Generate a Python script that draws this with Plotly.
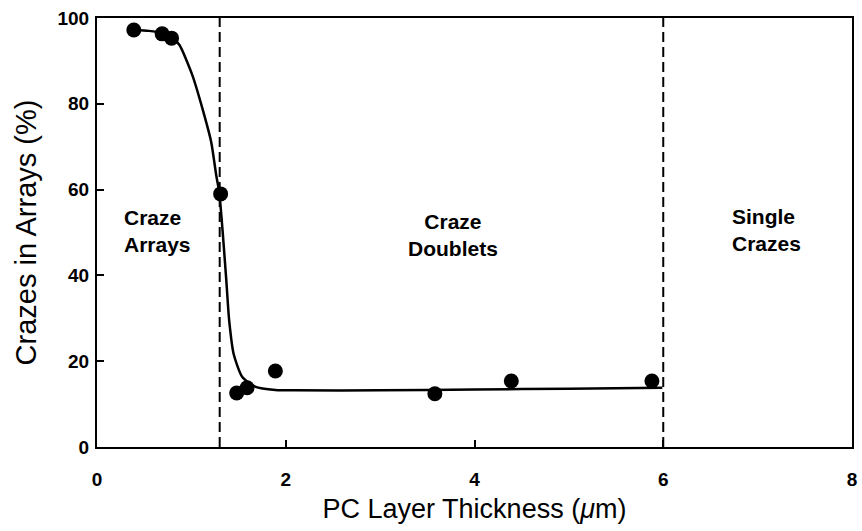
import plotly.graph_objects as go

# measured data points
thickness = [0.39, 0.69, 0.79, 1.31, 1.48, 1.59, 1.89, 3.58, 4.39, 5.88]
crazes_pct = [97.2, 96.3, 95.3, 59.0, 12.6, 13.8, 17.7, 12.4, 15.4, 15.4]

# fitted curve
curve_x = [0.39, 0.55, 0.69, 0.79, 0.874, 1.01, 1.116, 1.21, 1.263, 1.295, 1.33, 1.37, 1.40, 1.45, 1.54, 1.68, 1.89, 2.1, 3.0, 4.0, 5.0, 5.99]
curve_y = [97.2, 97.0, 96.5, 95.6, 93.7, 86.7, 79.0, 71.1, 63.4, 59.4, 50.6, 38.9, 29.6, 21.5, 16.3, 14.0, 13.3, 13.2, 13.2, 13.4, 13.6, 13.8]

# region boundaries
boundaries = [1.3, 6.0]

# region labels
label_text = ["Craze<br>Arrays", "Craze<br>Doublets", "Single<br>Crazes"]
label_x = [0.637, 3.77, 7.09]
label_y = [50.3, 49.4, 50.6]
label_align = ["left", "center", "left"]

x_ticks = [0, 2, 4, 6, 8]
y_ticks = [0, 20, 40, 60, 80, 100]

FONT = "Liberation Sans, Arial, Helvetica, sans-serif"

fig = go.Figure()

for b in boundaries:
    fig.add_trace(go.Scatter(x=[b, b], y=[0, 100], mode="lines",
                             line=dict(color="black", width=2, dash="10px,5px"),
                             hoverinfo="skip", showlegend=False))

fig.add_trace(go.Scatter(x=curve_x, y=curve_y, mode="lines",
                         line=dict(color="black", width=2.5, shape="spline", smoothing=0.6),
                         showlegend=False))

fig.add_trace(go.Scatter(x=thickness, y=crazes_pct, mode="markers",
                         marker=dict(color="black", size=15),
                         showlegend=False))

for t, x, y, a in zip(label_text, label_x, label_y, label_align):
    fig.add_annotation(x=x, y=y, text=t, showarrow=False, align=a,
                       font=dict(family=FONT, size=21, color="black", weight="bold"))

fig.update_layout(
    width=862, height=531,
    margin=dict(l=97, r=5, t=18, b=84),
    plot_bgcolor="white", paper_bgcolor="white",
    font=dict(family=FONT, color="black"),
)

fig.update_xaxes(
    range=[0, 8], tickvals=x_ticks, ticktext=[str(v) for v in x_ticks],
    ticks="inside", ticklen=7, tickwidth=2, tickcolor="black",
    showline=True, linecolor="black", linewidth=2, mirror=True,
    showgrid=False, zeroline=False,
    tickfont=dict(family=FONT, size=19, weight="bold"),
    ticklabelstandoff=14,
    title=dict(text="PC Layer Thickness (<i>μ</i>m)", font=dict(family=FONT, size=27), standoff=10),
)
fig.update_yaxes(
    range=[0, 100], tickvals=y_ticks, ticktext=[str(v) for v in y_ticks],
    ticks="inside", ticklen=7, tickwidth=2, tickcolor="black",
    showline=True, linecolor="black", linewidth=2, mirror=True,
    showgrid=False, zeroline=False,
    tickfont=dict(family=FONT, size=19, weight="bold"),
    ticklabelstandoff=2,
    title=dict(text="Crazes in Arrays (%)", font=dict(family=FONT, size=29), standoff=12),
)

fig.write_html("out.html")
